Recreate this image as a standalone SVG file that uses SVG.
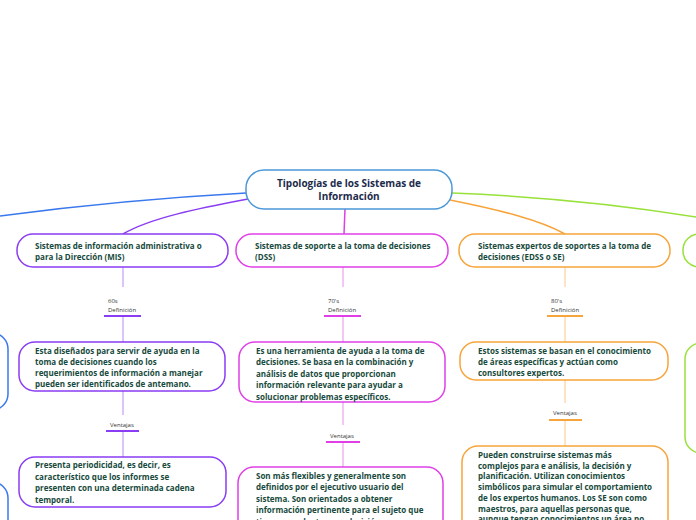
<svg xmlns="http://www.w3.org/2000/svg" width="696" height="520" viewBox="0 0 696 520">
<style>
.t{font-family:"Open Sans","Noto Sans","Liberation Sans",sans-serif;font-weight:bold;font-size:8px;fill:#174a3c}
.c{font-family:"Open Sans","Noto Sans","Liberation Sans",sans-serif;font-weight:bold;font-size:10px;fill:#1c2b4b;text-anchor:middle}
.s{font-family:"Open Sans","Noto Sans","Liberation Sans",sans-serif;font-size:6px;fill:#333}
.box{fill:#fff;stroke-width:1.5}
.p{stroke:#8a3df2}.m{stroke:#e03fe6}.o{stroke:#f7a43a}.g{stroke:#98e13a}.b{stroke:#3a78ee}
.br{fill:none;stroke-width:1.5}
.v{fill:none;stroke-width:1;stroke-opacity:0.6}
.u{fill:none;stroke-width:2}
</style>
<rect width="696" height="520" fill="#fff"/>
<g id="connectors">
<path class="br b" d="M246,193 Q120,200 0,216" stroke-width="2"/>
<path class="br p" d="M248,199 C200,208 150,218 123,234"/>
<path class="br m" d="M345,209 L344,234"/>
<path class="br o" d="M450,200 C500,210 540,220 565,234"/>
<path class="br g" d="M452,193 Q580,198 696,217"/>
<path class="v p" d="M123,267 V287 M123,316 V342 M123,391 V415 M123,431 V457"/>
<path class="v m" d="M343,267 V287 M343,316 V342 M343,402 V425 M343,442 V467"/>
<path class="v o" d="M565,267 V287 M565,316 V342 M565,380 V403 M565,420 V446"/>
<path class="u p" d="M104,316 H141 M106,431 H139"/>
<path class="u m" d="M324,316 H361 M326,442 H360"/>
<path class="u o" d="M547,316 H583 M549,420 H582"/>
</g>
<g id="central">
<rect class="box" x="246" y="170" width="206" height="39" rx="18" stroke="#4a98d8"/>
<text class="c" x="349" y="186.5">Tipologías de los Sistemas de</text>
<text class="c" x="349" y="199.5">Información</text>
</g>
<g id="mis">
<rect class="box p" x="17" y="234" width="211" height="33" rx="16"/>
<text class="t" x="35" y="249">Sistemas de información administrativa o</text>
<text class="t" x="35" y="260">para la Dirección (MIS)</text>
</g>
<g id="mis-label1">
<text class="s" x="108" y="303">60s</text>
<text class="s" x="108" y="312">Definición</text>
</g>
<g id="mis-def">
<rect class="box p" x="19" y="342" width="206" height="49" rx="16"/>
<text class="t" x="35" y="353.5">Esta diseñados para servir de ayuda en la</text>
<text class="t" x="35" y="364.5">toma de decisiones cuando los</text>
<text class="t" x="35" y="376">requerimientos de información a manejar</text>
<text class="t" x="35" y="387">pueden ser identificados de antemano.</text>
</g>
<g id="mis-label2">
<text class="s" x="110" y="427">Ventajas</text>
</g>
<g id="mis-ven">
<rect class="box p" x="19" y="457" width="207" height="50" rx="16"/>
<text class="t" x="35" y="468">Presenta periodicidad, es decir, es</text>
<text class="t" x="35" y="479.5">característico que los informes se</text>
<text class="t" x="35" y="491">presenten con una determinada cadena</text>
<text class="t" x="35" y="502.5">temporal.</text>
</g>
<g id="dss">
<rect class="box m" x="236" y="234" width="212" height="33" rx="16"/>
<text class="t" x="255" y="249">Sistemas de soporte a la toma de decisiones</text>
<text class="t" x="255" y="260">(DSS)</text>
</g>
<g id="dss-label1">
<text class="s" x="328" y="303">70's</text>
<text class="s" x="328" y="312">Definición</text>
</g>
<g id="dss-def">
<rect class="box m" x="239" y="342" width="206" height="60" rx="16"/>
<text class="t" x="256" y="353.5">Es una herramienta de ayuda a la toma de</text>
<text class="t" x="256" y="365">decisiones. Se basa en la combinación y</text>
<text class="t" x="256" y="376.5">análisis de datos que proporcionan</text>
<text class="t" x="256" y="388">información relevante para ayudar a</text>
<text class="t" x="256" y="399.5">solucionar problemas específicos.</text>
</g>
<g id="dss-label2">
<text class="s" x="330" y="438">Ventajas</text>
</g>
<g id="dss-ven">
<rect class="box m" x="238" y="467" width="205" height="80" rx="16"/>
<text class="t" x="256" y="478.5">Son más flexibles y generalmente son</text>
<text class="t" x="256" y="490">definidos por el ejecutivo usuario del</text>
<text class="t" x="256" y="501.5">sistema. Son orientados a obtener</text>
<text class="t" x="256" y="513">información pertinente para el sujeto que</text>
<text class="t" x="256" y="524.5">tiene que adoptar una decisión.</text>
</g>
<g id="edss">
<rect class="box o" x="459" y="234" width="211" height="33" rx="16"/>
<text class="t" x="478" y="249">Sistemas expertos de soportes a la toma de</text>
<text class="t" x="478" y="260">decisiones (EDSS o SE)</text>
</g>
<g id="edss-label1">
<text class="s" x="551" y="303">80's</text>
<text class="s" x="551" y="312">Definición</text>
</g>
<g id="edss-def">
<rect class="box o" x="460" y="342" width="208" height="38" rx="16"/>
<text class="t" x="478" y="353.5">Estos sistemas se basan en el conocimiento</text>
<text class="t" x="478" y="364.5">de áreas específicas y actúan como</text>
<text class="t" x="478" y="376">consultores expertos.</text>
</g>
<g id="edss-label2">
<text class="s" x="553" y="415">Ventajas</text>
</g>
<g id="edss-ven">
<rect class="box o" x="462" y="446" width="206" height="100" rx="16"/>
<text class="t" x="478" y="458">Pueden construirse sistemas más</text>
<text class="t" x="478" y="468.7">complejos para e análisis, la decisión y</text>
<text class="t" x="478" y="479.4">planificación. Utilizan conocimientos</text>
<text class="t" x="478" y="490.1">simbólicos para simular el comportamiento</text>
<text class="t" x="478" y="500.8">de los expertos humanos. Los SE son como</text>
<text class="t" x="478" y="511.5">maestros, para aquellas personas que,</text>
<text class="t" x="478" y="522.2">aunque tengan conocimientos un área no</text>
</g>
<g id="left-nodes">
<rect class="box b" x="-100" y="333" width="108" height="77" rx="16"/>
<rect class="box b" x="-100" y="482" width="108" height="60" rx="16"/>
</g>
<g id="right-nodes">
<rect class="box g" x="683" y="234" width="100" height="33" rx="16"/>
<rect class="box g" x="685" y="343" width="100" height="110" rx="16"/>
</g>
</svg>
